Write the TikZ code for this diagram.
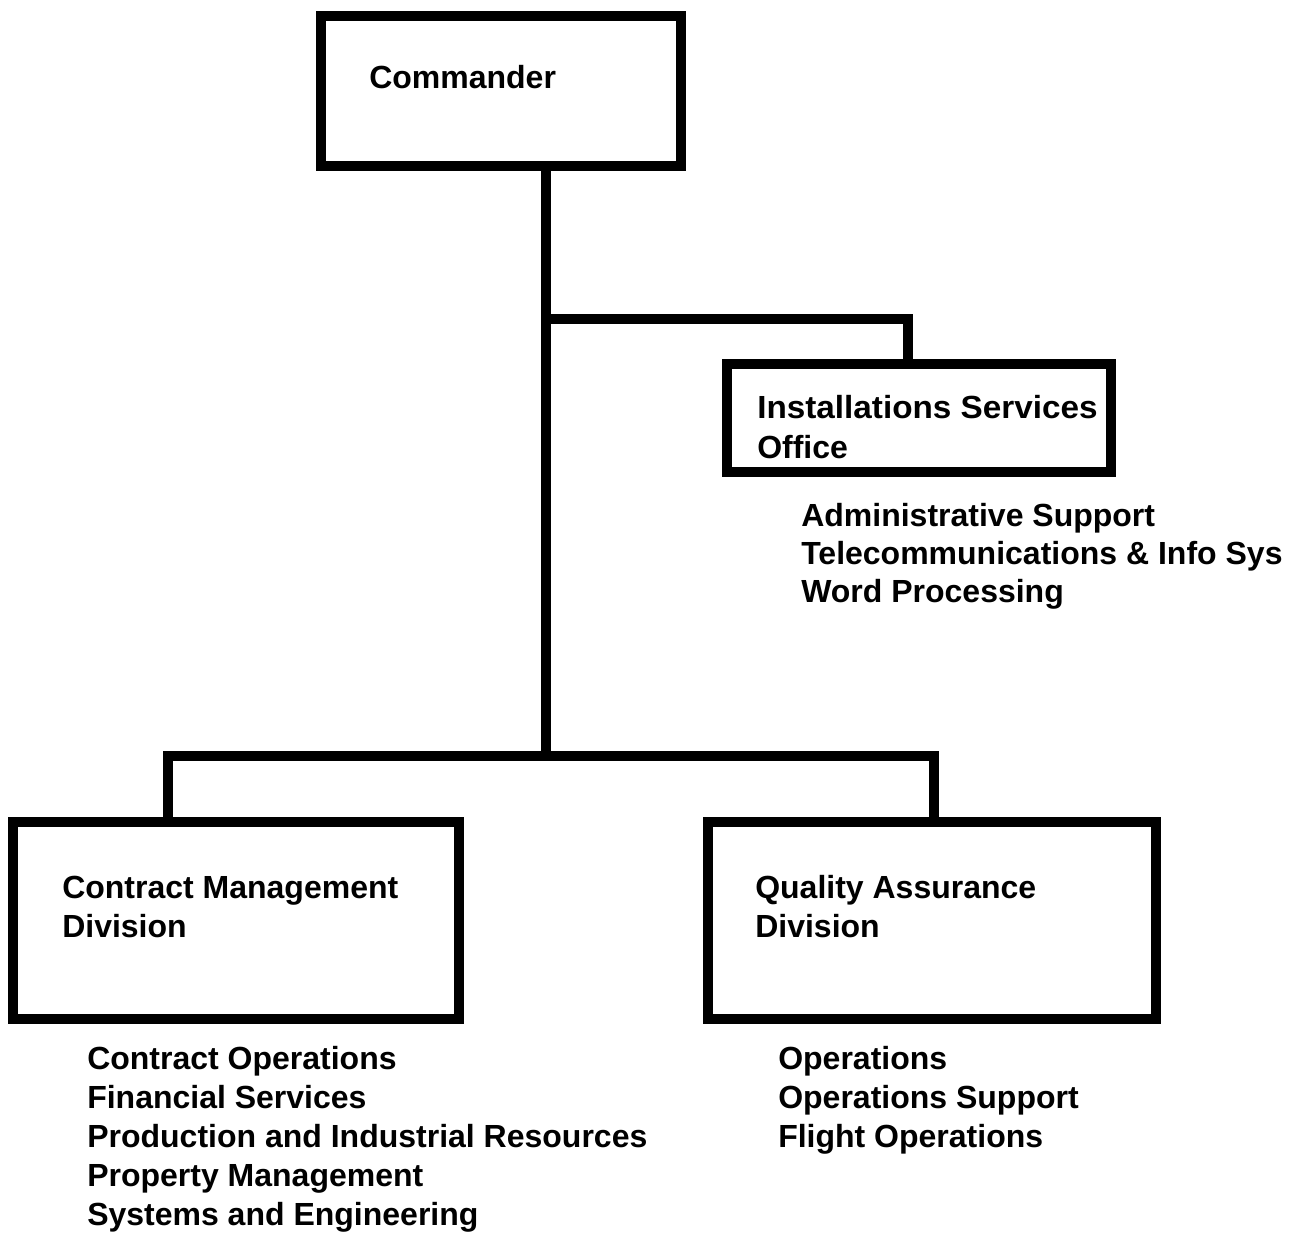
\documentclass[tikz,border=0pt]{standalone}
\usepackage{fontspec}
\setmainfont{Liberation Sans}
\begin{document}
\begin{tikzpicture}[x=0.75pt,y=-0.75pt,
  orgbox/.style={draw=black,line width=8.2pt,inner sep=0pt,fill=none},
  link/.style={draw=black,line width=7.2pt},
  label/.style={anchor=base west,inner sep=0pt,font=\fontsize{24}{29}\selectfont\bfseries}]
\useasboundingbox (0,0) rectangle (1296,1239);

% boxes (outline centre lines)
\node[orgbox,minimum width=360*0.75pt,minimum height=150*0.75pt] (cmd) at (501,91) {};
\node[orgbox,minimum width=384*0.75pt,minimum height=108*0.75pt] (iso) at (919,418) {};
\node[orgbox,minimum width=446*0.75pt,minimum height=197*0.75pt] (cmdiv) at (236,920.5) {};
\node[orgbox,minimum width=448*0.75pt,minimum height=197*0.75pt] (qad) at (932,920.5) {};

% junctions
\coordinate (j1) at (546,319);
\coordinate (j2) at (546,756);
\coordinate (jl) at (168,756);
\coordinate (jr) at (934,756);
\coordinate (ji) at (908,319);

% connectors
\draw[link] (cmd.south -| j1) -- (j2);
\draw[link] (j1) -- (ji) -- (ji |- iso.north);
\draw[link] (cmdiv.north -| jl) -- (jl) -- (jr) -- (jr |- qad.north);

% box titles
\node[label] (tcmd) at (369,88) {Commander};
\node[label,xscale=1.04] (tiso1) at (757,418) {Installations Services};
\node[label] (tiso2) at (757,458) {Office};
\node[label] (tcm1) at (62,898) {Contract Management};
\node[label] (tcm2) at (62,937) {Division};
\node[label] (tqa1) at (755,898) {Quality Assurance};
\node[label] (tqa2) at (755,937) {Division};

% functions under each office
\node[label] (a1) at (801,526) {Administrative Support};
\node[label] (a2) at (801,564) {Telecommunications \& Info Sys};
\node[label] (a3) at (801,602) {Word Processing};

\node[label] (c1) at (87,1069) {Contract Operations};
\node[label] (c2) at (87,1108) {Financial Services};
\node[label] (c3) at (87,1147) {Production and Industrial Resources};
\node[label] (c4) at (87,1186) {Property Management};
\node[label] (c5) at (87,1225) {Systems and Engineering};

\node[label] (q1) at (778,1069) {Operations};
\node[label] (q2) at (778,1108) {Operations Support};
\node[label] (q3) at (778,1147) {Flight Operations};
\end{tikzpicture}
\end{document}
